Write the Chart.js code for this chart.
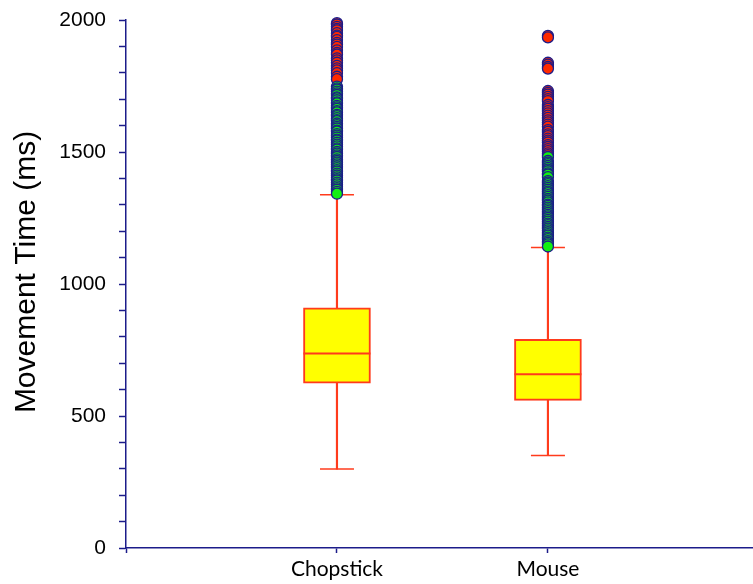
<!DOCTYPE html>
<html>
<head>
<meta charset="utf-8">
<script src="https://cdn.jsdelivr.net/npm/chart.js@4/dist/chart.umd.min.js"></script>
<style>
  html, body { margin: 0; padding: 0; background: #ffffff; }
  #wrap { width: 753px; height: 584px; }
</style>
</head>
<body>
<div id="wrap"><canvas id="chart" width="753" height="584"></canvas></div>
<script>
// Box-plot summary per input device (movement time, ms)
const categories   = ['Chopstick', 'Mouse'];
const categoryPos  = [1, 2];
const lowerWhisker = [299, 350];
const q1           = [624, 559];
const median       = [737, 658];
const q3           = [910, 790];
const upperWhisker = [1338, 1138];

// Outliers beyond 3 IQR (far out), listed high to low
const chopstickFarOut = [1988, 1983, 1974, 1966, 1961, 1950, 1941, 1936, 1924, 1913, 1907,
  1898, 1885, 1875, 1869, 1855, 1847, 1838, 1826, 1817, 1809, 1799, 1785, 1776];
const mouseFarOut = [1940, 1934, 1838, 1831, 1822, 1816, 1731, 1724, 1717, 1709, 1700, 1693,
  1678, 1670, 1663, 1655, 1646, 1638, 1629, 1620, 1612, 1604, 1596, 1583, 1576, 1567,
  1560, 1551, 1543, 1536, 1526, 1519, 1511, 1503, 1495, 1488];

// Outliers between 1.5 and 3 IQR, listed high to low
const chopstickOut = [1748, 1741, 1736, 1729, 1722, 1716, 1707, 1703, 1696, 1688, 1684,
  1675, 1669, 1663, 1655, 1650, 1641, 1636, 1628, 1621, 1617, 1608, 1602, 1595, 1589,
  1581, 1577, 1568, 1562, 1555, 1547, 1543, 1535, 1528, 1521, 1514, 1509, 1500, 1494,
  1487, 1481, 1472, 1466, 1460, 1453, 1446, 1439, 1431, 1426, 1418, 1411, 1404, 1397,
  1392, 1384, 1377, 1370, 1363, 1357, 1349, 1342];
const mouseOut = [1481, 1466, 1460, 1454, 1447, 1440, 1433, 1427, 1419, 1414, 1405, 1390,
  1384, 1378, 1371, 1364, 1357, 1350, 1344, 1337, 1330, 1322, 1316, 1309, 1301, 1296,
  1289, 1283, 1276, 1269, 1262, 1256, 1250, 1243, 1236, 1229, 1223, 1216, 1210, 1203,
  1196, 1189, 1183, 1176, 1170, 1162, 1156, 1150, 1142];

const yTicksLabelled = [0, 500, 1000, 1500, 2000];
const yAxisTitle = 'Movement Time (ms)';

const NAVY = '#1c1c8a';
const RED = '#ff3b1c';
const YELLOW = '#ffff00';

const pts = (pos, values) => values.map(v => ({ x: pos, y: v }));

const boxData     = categoryPos.map((p, i) => ({ x: p, y: [q1[i], q3[i]] }));
const whiskerData = categoryPos.map((p, i) => ({ x: p, y: [lowerWhisker[i], upperWhisker[i]] }));
const medianData  = categoryPos.map((p, i) => ({ x: p, y: median[i] }));
const capData     = categoryPos.flatMap((p, i) => [{ x: p, y: lowerWhisker[i] }, { x: p, y: upperWhisker[i] }]);

const farOutData = pts(1, chopstickFarOut).concat(pts(2, mouseFarOut));
const outData    = pts(1, chopstickOut).concat(pts(2, mouseOut));

// Vertical axis title, placed a little above the plot's middle
const axisTitlePlugin = {
  id: 'axisTitle',
  afterDraw(chart) {
    const { ctx, chartArea } = chart;
    ctx.save();
    ctx.translate(27, (chartArea.top + chartArea.bottom) / 2 - 12);
    ctx.rotate(-Math.PI / 2);
    ctx.font = '30px "Liberation Sans"';
    ctx.fillStyle = '#000000';
    ctx.textAlign = 'center';
    ctx.textBaseline = 'middle';
    ctx.fillText(yAxisTitle, 0, 0);
    ctx.restore();
  }
};

new Chart(document.getElementById('chart'), {
  type: 'bar',
  plugins: [axisTitlePlugin],
  data: {
    datasets: [
      { // mild outliers (drawn last, on top)
        type: 'scatter', order: 0, data: outData, clip: false,
        pointRadius: 5.5, pointBorderWidth: 1.3,
        pointBackgroundColor: '#12f012', pointBorderColor: NAVY
      },
      { // far outliers
        type: 'scatter', order: 1, data: farOutData, clip: false,
        pointRadius: 5.5, pointBorderWidth: 1.3,
        pointBackgroundColor: '#ff2a00', pointBorderColor: NAVY
      },
      { // median line
        type: 'scatter', order: 2, data: medianData,
        pointStyle: 'line', pointRadius: 33.5, pointBorderWidth: 2,
        pointBorderColor: RED
      },
      { // whisker caps
        type: 'scatter', order: 3, data: capData,
        pointStyle: 'line', pointRadius: 17, pointBorderWidth: 1.5,
        pointBorderColor: RED
      },
      { // interquartile box
        type: 'bar', order: 4, data: boxData, grouped: false,
        barThickness: 67, backgroundColor: YELLOW,
        borderColor: RED, borderWidth: 2, borderSkipped: false
      },
      { // whisker stem
        type: 'bar', order: 5, data: whiskerData, grouped: false,
        barThickness: 1.5, backgroundColor: RED, borderWidth: 0
      }
    ]
  },
  options: {
    responsive: false,
    animation: false,
    devicePixelRatio: 1,
    layout: { autoPadding: false, padding: { top: 20, right: 0, bottom: 0, left: 0 } },
    plugins: { legend: { display: false }, tooltip: { enabled: false } },
    scales: {
      x: {
        type: 'linear',
        offset: false,
        min: 0,
        max: 2.972,
        afterBuildTicks: (scale) => { scale.ticks = [0].concat(categoryPos).map(v => ({ value: v })); },
        afterFit: (scale) => { scale.height = 36; scale.paddingLeft = 0; scale.paddingRight = 0; },
        ticks: {
          autoSkip: false, maxRotation: 0, padding: 4,
          color: '#000000',
          font: { family: 'Lato', size: 21 },
          callback: (v) => { const i = categoryPos.indexOf(v); return i >= 0 ? categories[i] : ''; }
        },
        grid: { offset: false, drawOnChartArea: false, drawTicks: true, tickLength: 5, tickColor: NAVY, tickWidth: 1.5 },
        border: { display: true, color: NAVY, width: 1.5 }
      },
      y: {
        type: 'linear',
        min: 0,
        max: 2000,
        afterFit: (scale) => { scale.width = 126; scale.paddingTop = 0; scale.paddingBottom = 0; },
        ticks: {
          stepSize: 100, padding: 13, autoSkip: false,
          color: '#000000',
          font: { family: 'Liberation Sans', size: 21 },
          callback: (v) => yTicksLabelled.includes(v) ? String(v) : ''
        },
        grid: { drawOnChartArea: false, drawTicks: true, tickLength: 7, tickColor: NAVY, tickWidth: 1.5 },
        border: { display: true, color: NAVY, width: 1.5 }
      }
    }
  }
});
</script>
</body>
</html>
